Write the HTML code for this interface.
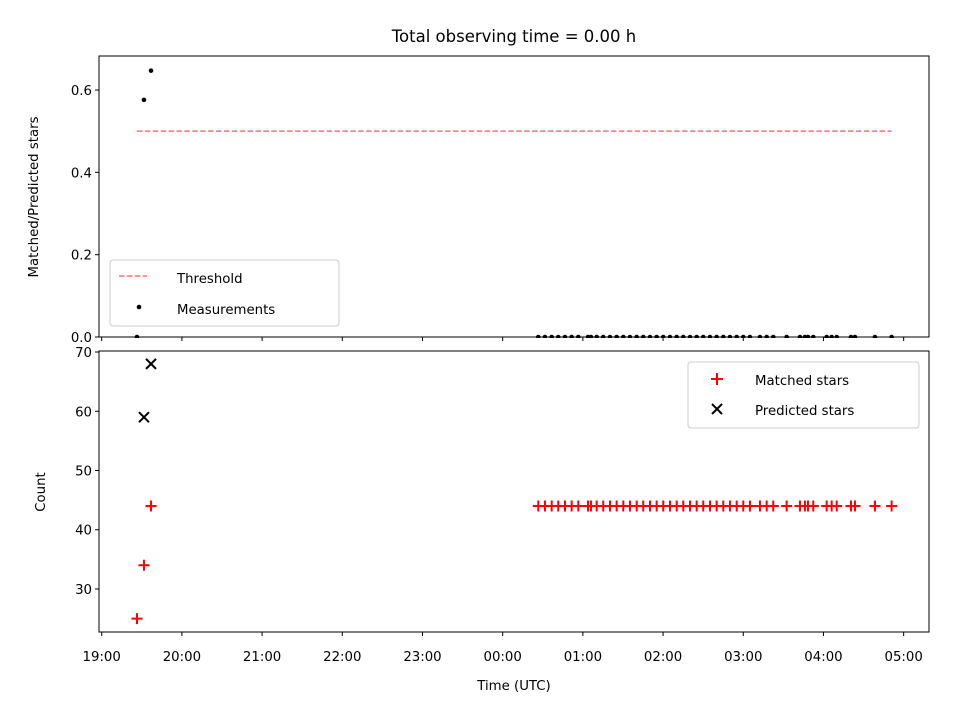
<!DOCTYPE html>
<html><head><meta charset="utf-8"><style>
body{margin:0;background:#fff;font-family:"Liberation Sans",sans-serif}
svg text{font-family:"DejaVu Sans","Liberation Sans",sans-serif;fill:#000;font-size:13.3px}
svg text.title{font-size:16.5px}
</style></head><body>
<svg id="c" width="960" height="720"></svg>
<script>
const earlyTimes=[0.44,0.527,0.615];
const earlyMatched=[25,34,44];
const earlyPredicted=[null,59,68];
const earlyRatio=[0,0.576,0.647];
const lateTimes=[5.444,5.527,5.611,5.693,5.777,5.860,5.943,6.064,6.101,6.172,6.254,6.338,6.421,6.504,6.587,6.671,6.753,6.837,6.920,7.002,7.086,7.170,7.252,7.336,7.419,7.501,7.585,7.668,7.751,7.834,7.918,8.000,8.083,8.208,8.292,8.374,8.541,8.707,8.769,8.807,8.873,9.040,9.102,9.165,9.343,9.393,9.642,9.850];
const lateMatched=44;
const lateRatio=0;
const xTickLabels=["19:00","20:00","21:00","22:00","23:00","00:00","01:00","02:00","03:00","04:00","05:00"];
const topTicks=[0.0,0.2,0.4,0.6];
const botTicks=[30,40,50,60,70];
const threshold=0.5;

const times=earlyTimes.concat(lateTimes);
const matched=earlyMatched.concat(lateTimes.map(()=>lateMatched));
const predicted=earlyPredicted.concat(lateTimes.map(()=>null));
const ratio=earlyRatio.concat(lateTimes.map(()=>lateRatio));

const NS="http://www.w3.org/2000/svg";
const svg=document.getElementById('c');
function el(t,a,p){const e=document.createElementNS(NS,t);for(const k in a)e.setAttribute(k,a[k]);(p||svg).appendChild(e);return e;}
const X0=99,X1=929,xmin=-0.0337,xmax=10.316;
const sx=h=>X0+(h-xmin)/(xmax-xmin)*(X1-X0);
const T0=56,T1=337,tmin=0,tmax=0.6826;
const sy1=v=>T1-(v-tmin)/(tmax-tmin)*(T1-T0);
const B0=351,B1=632,bmin=22.74,bmax=70.17;
const sy2=v=>B1-(v-bmin)/(bmax-bmin)*(B1-B0);

let t=el('text',{x:514,y:42,'text-anchor':'middle','class':'title'});
t.textContent='Total observing time = 0.00 h';

const gT=el('g',{});
let ln=el('line',{x1:sx(earlyTimes[0]),x2:sx(lateTimes[lateTimes.length-1]),y1:sy1(threshold),y2:sy1(threshold),stroke:'#ff7070','stroke-width':1.5,'stroke-dasharray':'5.5,2.4'},gT);

times.forEach((h,i)=>{const c=el('circle',{cx:sx(h),cy:sy1(ratio[i]),r:2.3,fill:'#000'},gT);
});
el('rect',{x:90,y:338,width:850,height:12,fill:'#fff'});
el('rect',{x:X0,y:T0,width:X1-X0,height:T1-T0,fill:'none',stroke:'#000','stroke-width':1});
topTicks.forEach(v=>{const y=sy1(v);el('line',{x1:X0-4,x2:X0,y1:y,y2:y,stroke:'#000'});
const tx=el('text',{x:X0-7,y:y+5,'text-anchor':'end'});tx.textContent=v.toFixed(1);});
xTickLabels.forEach((l,i)=>{const x=sx(i);el('line',{x1:x,x2:x,y1:T1,y2:T1+4,stroke:'#000'});});
t=el('text',{transform:'translate(38,197) rotate(-90)','text-anchor':'middle'});
t.textContent='Matched/Predicted stars';
const lg=el('g',{});
el('rect',{x:110,y:260,width:229,height:66,rx:3,fill:'#fff','fill-opacity':0.8,stroke:'#ccc'},lg);
el('line',{x1:119,x2:147,y1:276,y2:276,stroke:'#ff7070','stroke-width':1.5,'stroke-dasharray':'5.5,2.4'},lg);
t=el('text',{x:177,y:283},lg);t.textContent='Threshold';
el('circle',{cx:139,cy:307,r:2.3,fill:'#000'},lg);
t=el('text',{x:177,y:314},lg);t.textContent='Measurements';

const gB=el('g',{});
times.forEach((h,i)=>{if(predicted[i]==null)return;const x=sx(h),y=sy2(predicted[i]);
const p=el('path',{d:`M${x-5},${y-5}L${x+5},${y+5}M${x-5},${y+5}L${x+5},${y-5}`,stroke:'#000','stroke-width':2},gB);
});
times.forEach((h,i)=>{const x=sx(h),y=sy2(matched[i]);
const p=el('path',{d:`M${x-5.5},${y}L${x+5.5},${y}M${x},${y-5.5}L${x},${y+5.5}`,stroke:'#f00','stroke-width':2},gB);
});
el('rect',{x:X0,y:B0,width:X1-X0,height:B1-B0,fill:'none',stroke:'#000','stroke-width':1});
botTicks.forEach(v=>{const y=sy2(v);el('line',{x1:X0-4,x2:X0,y1:y,y2:y,stroke:'#000'});
const tx=el('text',{x:X0-7,y:y+5,'text-anchor':'end'});tx.textContent=v;});
xTickLabels.forEach((l,i)=>{const x=sx(i);el('line',{x1:x,x2:x,y1:B1,y2:B1+4,stroke:'#000'});
const tx=el('text',{x:x,y:B1+29,'text-anchor':'middle'});tx.textContent=l;});
t=el('text',{x:514,y:690,'text-anchor':'middle'});t.textContent='Time (UTC)';
t=el('text',{transform:'translate(45,492) rotate(-90)','text-anchor':'middle'});t.textContent='Count';
const lg2=el('g',{});
el('rect',{x:688,y:362,width:231,height:66,rx:3,fill:'#fff','fill-opacity':0.8,stroke:'#ccc'},lg2);
el('path',{d:'M711,379L723,379M717,373L717,385',stroke:'#f00','stroke-width':2},lg2);
t=el('text',{x:755,y:385},lg2);t.textContent='Matched stars';
el('path',{d:'M712,404L722,414M712,414L722,404',stroke:'#000','stroke-width':2},lg2);
t=el('text',{x:755,y:415},lg2);t.textContent='Predicted stars';
</script>
</body></html>
